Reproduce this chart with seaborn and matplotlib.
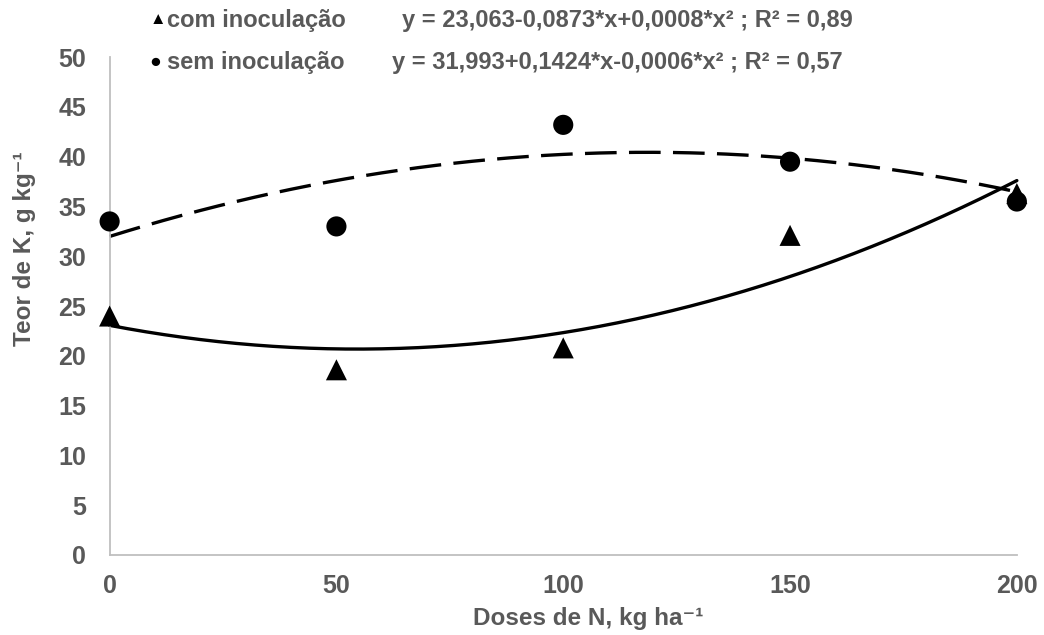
import numpy as np
import pandas as pd
import seaborn as sns
import matplotlib
matplotlib.use('Agg')
import matplotlib.pyplot as plt

doses = [0, 50, 100, 150, 200]
com_inoc = [24.0, 18.6, 20.8, 32.1, 36.3]
sem_inoc = [33.5, 33.0, 43.2, 39.5, 35.5]

coef_com = [23.063, -0.0873, 0.0008]
coef_sem = [31.993, 0.1424, -0.0006]
eq_com = 'y = 23,063-0,0873*x+0,0008*x² ; R² = 0,89'
eq_sem = 'y = 31,993+0,1424*x-0,0006*x² ; R² = 0,57'

sns.set_style('white')
plt.rcParams['font.family'] = ['Liberation Sans', 'DejaVu Sans']
grey = '#595959'

fig, ax = plt.subplots(figsize=(10.44, 6.35), dpi=100)
fig.subplots_adjust(left=0.105, right=0.974, bottom=0.126, top=0.910)

xs = np.linspace(0, 200, 201)
fit = pd.DataFrame({
    'x': xs,
    'com': coef_com[0] + coef_com[1] * xs + coef_com[2] * xs ** 2,
    'sem': coef_sem[0] + coef_sem[1] * xs + coef_sem[2] * xs ** 2,
})
sns.lineplot(data=fit, x='x', y='com', color='black', lw=2.4, ax=ax)
sns.lineplot(data=fit, x='x', y='sem', color='black', lw=2.4, ax=ax,
             linestyle=(0, (9.5, 3.7)))

pts = pd.DataFrame({'x': doses, 'com': com_inoc, 'sem': sem_inoc})
sns.scatterplot(data=pts, x='x', y='com', marker='^', s=230, color='black',
                edgecolor='none', ax=ax, zorder=3)
sns.scatterplot(data=pts, x='x', y='sem', marker='o', s=210, color='black',
                edgecolor='none', ax=ax, zorder=3)
for art in ax.lines + ax.collections:
    art.set_clip_on(False)

ax.set_xlim(0, 200)
ax.set_ylim(0, 50)
ax.set_xticks(doses)
ax.set_yticks(range(0, 51, 5))
ax.tick_params(axis='both', length=0, labelsize=18, labelcolor=grey)
ax.tick_params(axis='y', pad=17)
ax.tick_params(axis='x', pad=14)
for lab in ax.get_xticklabels() + ax.get_yticklabels():
    lab.set_fontweight('bold')
for side in ['top', 'right']:
    ax.spines[side].set_visible(False)
for side in ['left', 'bottom']:
    ax.spines[side].set_color('#BFBFBF')
    ax.spines[side].set_linewidth(1.3)

ax.set_xlabel('Doses de N, kg ha⁻¹', fontsize=17.5, fontweight='bold', color=grey)
ax.set_ylabel('Teor de K, g kg⁻¹', fontsize=17.5, fontweight='bold', color=grey)
ax.xaxis.label.set_va('center')
ax.yaxis.label.set_va('center')
ax.xaxis.set_label_coords(0.528, -0.128)
ax.yaxis.set_label_coords(-0.094, 0.616)

# legenda e equacoes
fig.text(150 / 1044, 1 - 20 / 635, '▲', fontsize=12, color='black', va='center')
fig.text(167 / 1044, 1 - 20 / 635, 'com inoculação', fontsize=17, fontweight='bold',
         color=grey, va='center')
fig.text(149 / 1044, 1 - 62 / 635, '●', fontsize=14, color='black', va='center')
fig.text(167 / 1044, 1 - 62 / 635, 'sem inoculação', fontsize=17, fontweight='bold',
         color=grey, va='center')
fig.text(402 / 1044, 1 - 20 / 635, eq_com, fontsize=17, fontweight='bold',
         color=grey, va='center')
fig.text(392 / 1044, 1 - 62 / 635, eq_sem, fontsize=17, fontweight='bold',
         color=grey, va='center')

fig.savefig('out.png', dpi=100)
